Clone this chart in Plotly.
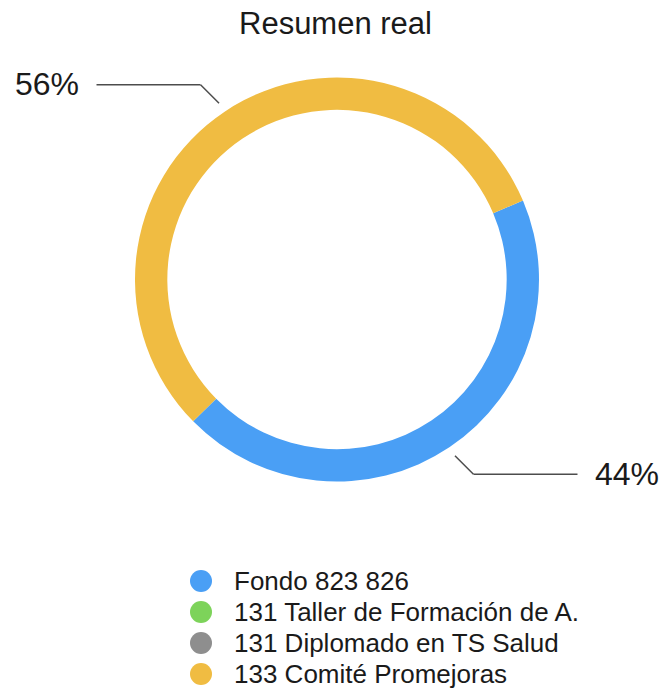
import math
import plotly.graph_objects as go

# ---- data ----
labels = ["Fondo 823 826", "131 Taller de Formación de A.", "131 Diplomado en TS Salud", "133 Comité Promejoras"]
values = [44, 0, 0, 56]
colors = ["#4A9FF5", "#7DD35A", "#8E8E8E", "#F0BC42"]
title_text = "Resumen real"

# ---- layout geometry (pixels) ----
W, H = 659, 688
CX, CY, R = 337.0, 279.5, 202.0
ROT = 67.0
FONT = "Liberation Sans, Arial, Helvetica, sans-serif"

def px(x):
    return x / W

def py(y):
    return 1 - y / H

fig = go.Figure()
fig.add_trace(go.Pie(
    labels=labels, values=values,
    marker=dict(colors=colors, line=dict(width=0)),
    hole=0.84, sort=False, direction="clockwise", rotation=ROT,
    textinfo="none", hoverinfo="label+percent", showlegend=False,
    domain=dict(x=[px(CX - R), px(CX + R)], y=[py(CY + R), py(CY - R)]),
))

shapes = []
annotations = []

# leader lines and percentage labels, positioned from the data
total = sum(values)
cum = 0.0
for lab, v in zip(labels, values):
    if v <= 0:
        continue
    mid = ROT + 360.0 * (cum + v / 2) / total
    cum += v
    a = math.radians(mid)
    sx, sy = math.sin(a), -math.cos(a)
    x1, y1 = CX + sx * R * 1.05, CY + sy * R * 1.05
    side = 1 if sx >= 0 else -1
    vside = 1 if sy >= 0 else -1
    x2, y2 = x1 + side * 18.5, y1 + vside * 18.5
    x3 = x2 + side * 104
    line = dict(color="#4d4d4d", width=1.5)
    shapes.append(dict(type="line", xref="paper", yref="paper",
                       x0=px(x1), y0=py(y1), x1=px(x2), y1=py(y2), line=line))
    shapes.append(dict(type="line", xref="paper", yref="paper",
                       x0=px(x2), y0=py(y2), x1=px(x3), y1=py(y2), line=line))
    annotations.append(dict(
        xref="paper", yref="paper", x=px(x3 + side * 16), y=py(y2 - 0.5),
        text=f"{round(100 * v / total)}%", showarrow=False,
        xanchor="left" if side > 0 else "right", yanchor="middle",
        font=dict(family=FONT, size=32, color="#1a1a1a"),
    ))

# title
annotations.append(dict(
    xref="paper", yref="paper", x=px(335), y=py(24), text=title_text,
    showarrow=False, xanchor="center", yanchor="middle",
    font=dict(family=FONT, size=31, color="#1a1a1a"),
))

# legend (manual, circular swatches)
row0, step = 581.0, 31.0
for i, (lab, col) in enumerate(zip(labels, colors)):
    yc = row0 + i * step
    shapes.append(dict(type="circle", xref="paper", yref="paper",
                       x0=px(201 - 11), x1=px(201 + 11), y0=py(yc + 11), y1=py(yc - 11),
                       fillcolor=col, line=dict(width=0)))
    annotations.append(dict(
        xref="paper", yref="paper", x=px(232), y=py(yc), text=lab,
        showarrow=False, xanchor="left", yanchor="middle",
        font=dict(family=FONT, size=26, color="#1a1a1a"),
    ))

fig.update_layout(
    width=W, height=H,
    margin=dict(l=0, r=0, t=0, b=0),
    paper_bgcolor="white", plot_bgcolor="white",
    shapes=shapes, annotations=annotations,
    showlegend=False,
)

fig.write_html(
    "out.html",
    config={"displayModeBar": False},
    post_script="document.body.style.margin='0';document.body.style.overflow='hidden';",
)
